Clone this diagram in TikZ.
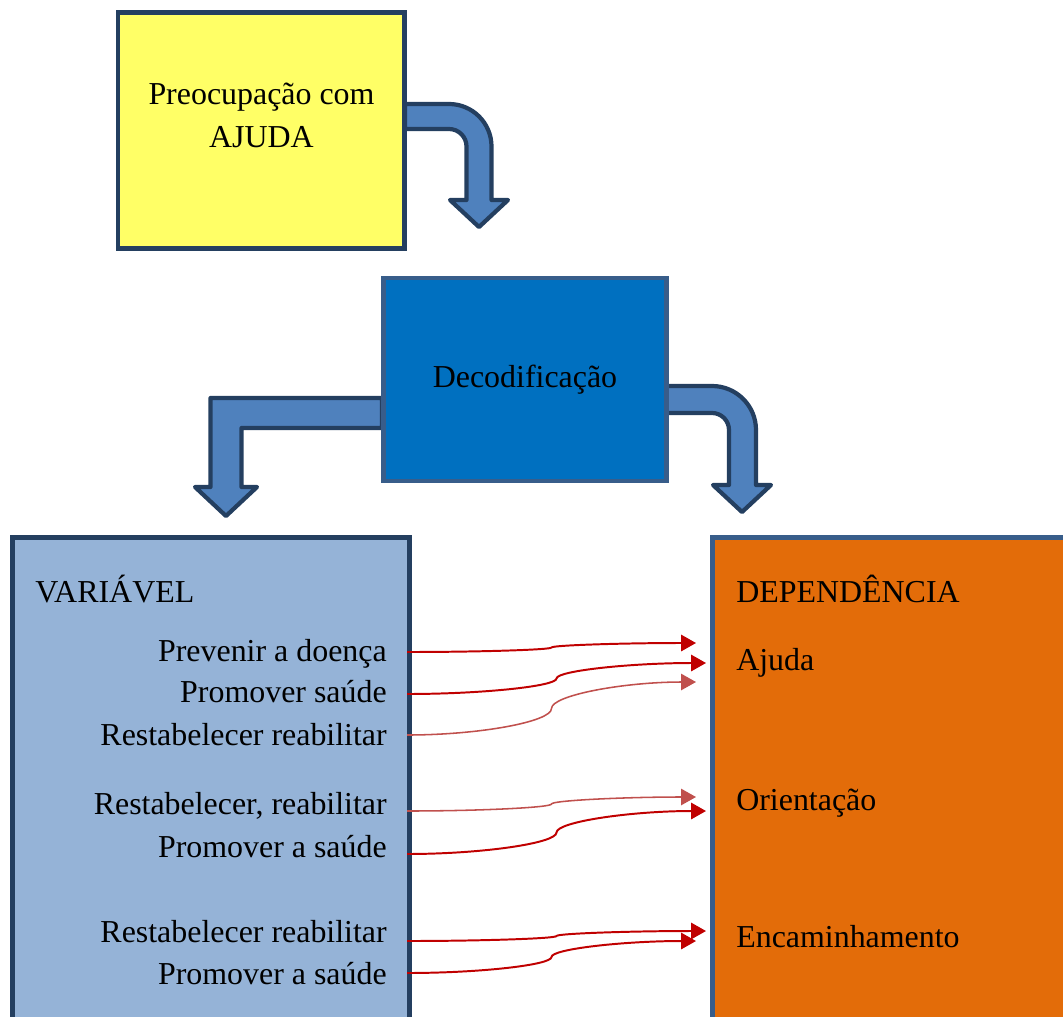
\documentclass[tikz,border=0pt]{standalone}
\usepackage{fontspec}
\setmainfont{Liberation Serif}
\usetikzlibrary{arrows.meta,calc}
\definecolor{boxline}{HTML}{243F60}
\definecolor{decline}{HTML}{385D8A}
\definecolor{ajudafill}{HTML}{FFFF66}
\definecolor{decfill}{HTML}{0070C0}
\definecolor{arrowfill}{HTML}{4F81BD}
\definecolor{varfill}{HTML}{95B3D7}
\definecolor{depfill}{HTML}{E36C09}
\definecolor{dred}{HTML}{C00000}
\definecolor{lred}{HTML}{C0504D}
\tikzset{
  box/.style={draw=boxline, line width=3.5pt, inner sep=0pt, font=\fontsize{22.7}{29}\selectfont},
  bent/.style={draw=boxline, fill=arrowfill, line width=3pt, line join=round},
  txt/.style={inner sep=0pt, font=\fontsize{22.7}{29}\selectfont},
  link/.style={line width=1.4pt, -{Triangle[length=10.5pt,width=11.5pt]},
    to path={let \p1=(\tikztostart), \p2=(\tikztotarget) in
      .. controls ({0.75*\x1+0.25*\x2},\y1) and ({0.5*\x1+0.5*\x2},{0.75*\y1+0.25*\y2})
      .. ({0.5*\x1+0.5*\x2},{0.5*\y1+0.5*\y2})
      .. controls ({0.5*\x1+0.5*\x2},{0.25*\y1+0.75*\y2}) and ({0.25*\x1+0.75*\x2},\y2)
      .. (\tikztotarget)}},
}
\begin{document}
\begin{tikzpicture}[x=0.025cm, y=-0.025cm]
\useasboundingbox (0,0) rectangle (1063,1017);
\clip (0,0) rectangle (1063,1017);
% block arrows
\draw[bent] (405,104) -- (449,104) arc[start angle=-90,end angle=0,radius=42.5]
  -- (491.5,200) -- (508,200) -- (479,227) -- (450,200) -- (466.5,200)
  -- (466.5,146.5) arc[start angle=0,end angle=-90,radius=17.5] -- (405,129) -- cycle;
\draw[bent] (382,398) -- (210.5,398) -- (210.5,487) -- (195,487) -- (226,516)
  -- (257,487) -- (241.5,487) -- (241.5,428) -- (382,428) -- cycle;
\draw[bent] (666,386) -- (712,386) arc[start angle=-90,end angle=0,radius=44]
  -- (756,485) -- (771,485) -- (742,512) -- (713,485) -- (729,485)
  -- (729,430) arc[start angle=0,end angle=-90,radius=17] -- (666,413) -- cycle;
% boxes
\node[box, fill=ajudafill, minimum width=7.15cm, minimum height=5.9cm] (pre) at (261,130.6) {};
\node[txt, anchor=base] (pretop) at (261.5,105) {Preocupação com};
\node[txt, anchor=base] (prebot) at (261.5,148) {AJUDA};
\node[box, draw=decline, fill=decfill, minimum width=7.075cm, minimum height=5.075cm] (dec) at (525,379.5) {Decodificação};
\node[box, fill=varfill, minimum width=9.925cm, minimum height=12.025cm] (var) at (211,778.5) {};
\node[box, draw=decline, fill=depfill, minimum width=8.94cm, minimum height=12.025cm] (dep) at (891.25,778.5) {};
\node[txt, anchor=base west] (varttl) at (35,602) {VARIÁVEL};
\node[txt, anchor=base west] (depttl) at (736,602) {DEPENDÊNCIA};
% left column
\node[txt, anchor=base east] (p1) at (387,661) {Prevenir a doença};
\node[txt, anchor=base east] (p2) at (387,702) {Promover saúde};
\node[txt, anchor=base east] (p3) at (387,745) {Restabelecer reabilitar};
\node[txt, anchor=base east] (p4) at (387,814) {Restabelecer, reabilitar};
\node[txt, anchor=base east] (p5) at (387,857) {Promover a saúde};
\node[txt, anchor=base east] (p6) at (387,942) {Restabelecer reabilitar};
\node[txt, anchor=base east] (p7) at (387,984) {Promover a saúde};
% right column
\node[txt, anchor=base west] (ajuda) at (736,670) {Ajuda};
\node[txt, anchor=base west] (orient) at (736,810) {Orientação};
\node[txt, anchor=base west] (encam) at (736,947) {Encaminhamento};
% connectors
\coordinate (s1) at (407,652);
\coordinate (s2) at (407,694);
\coordinate (s3) at (407,735);
\coordinate (s4) at (407,811);
\coordinate (s5) at (407,854);
\coordinate (s6) at (407,941);
\coordinate (s7) at (407,973);
\coordinate (t1) at (696,643);
\coordinate (t2) at (706,663);
\coordinate (t3) at (696,682);
\coordinate (t4) at (696,797);
\coordinate (t5) at (706,811);
\coordinate (t6) at (706,931);
\coordinate (t7) at (696,941);
\draw[link, dred] (s1) to (t1);
\draw[link, dred] (s2) to (t2);
\draw[link, lred, line width=1.1pt] (s3) to (t3);
\draw[link, lred, line width=1.1pt] (s4) to (t4);
\draw[link, dred] (s5) to (t5);
\draw[link, dred] (s6) to (t6);
\draw[link, dred] (s7) to (t7);
\end{tikzpicture}
\end{document}
